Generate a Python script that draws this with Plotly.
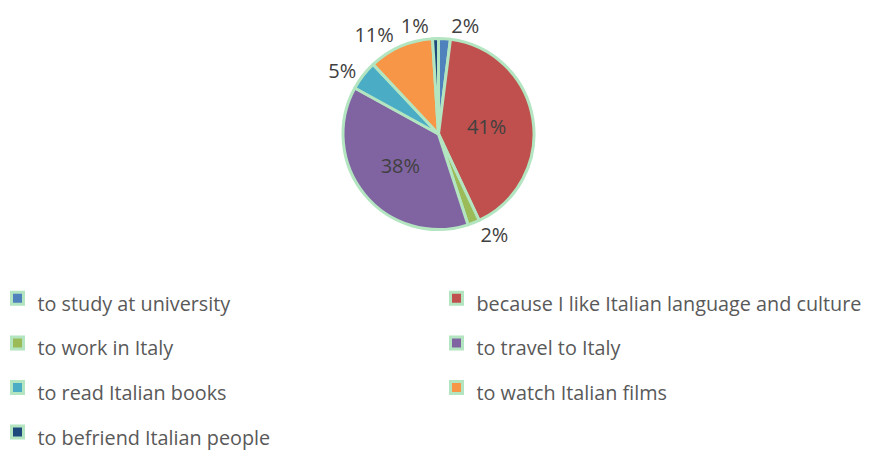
import plotly.graph_objects as go

categories = [
    "to study at university",
    "because I like Italian language and culture",
    "to work in Italy",
    "to travel to Italy",
    "to read Italian books",
    "to watch Italian films",
    "to befriend Italian people",
]
values = [2, 41, 2, 38, 5, 11, 1]
colors = ["#4f81bd", "#c0504d", "#9bbb59", "#8064a2", "#4bacc6", "#f79646", "#1f497d"]
text_positions = ["outside", "inside", "outside", "inside", "outside", "outside", "outside"]

W, H = 875, 450
# page body has an 8px margin: positions below are in figure pixels
cx, cy, r = 430.5, 126, 95.5
domain = dict(x=[(cx - r) / W, (cx + r) / W], y=[1 - (cy + r) / H, 1 - (cy - r) / H])

# the smallest slice gets its label from a second, invisible pie layer so that
# the library does not push it away from its neighbour
main_pos = [p if i != len(values) - 1 else "none" for i, p in enumerate(text_positions)]
over_pos = ["none" if i != len(values) - 1 else p for i, p in enumerate(text_positions)]

common = dict(
    values=values,
    sort=False,
    direction="clockwise",
    rotation=0,
    texttemplate="%{percent:.0%}",
    insidetextorientation="horizontal",
    textfont=dict(family="Open Sans", size=20, color="#404040"),
    domain=domain,
)

fig = go.Figure()
fig.add_trace(go.Pie(
    labels=['<span style="font-size:19.8px">' + c + '</span>' for c in categories],
    marker=dict(colors=colors, line=dict(color="#b3e5c1", width=3)),
    textposition=main_pos,
    hoverinfo="value",
    **common,
))
fig.add_trace(go.Pie(
    labels=['<span style="font-size:19.8px">' + c + '</span>' for c in categories],
    marker=dict(colors=["rgba(0,0,0,0)"] * len(values), line=dict(width=0)),
    textposition=over_pos,
    hoverinfo="skip",
    showlegend=False,
    **common,
))

ew = 394
L = -10
fig.update_layout(
    width=W, height=H,
    margin=dict(l=0, r=0, t=0, b=0, autoexpand=False),
    paper_bgcolor="white",
    plot_bgcolor="white",
    font=dict(family="Open Sans", color="#595959"),
    showlegend=True,
    legend=dict(
        orientation="h",
        x=(L + (2 * ew + 89) / 2) / W, xanchor="center",
        y=1 - 263 / H, yanchor="top",
        entrywidth=ew, entrywidthmode="pixels",
        maxheight=400,
        bgcolor="rgba(0,0,0,0)",
        font=dict(family="Open Sans", size=32, color="#595959"),
        traceorder="normal",
    ),
)

fig.write_html("out.html")
